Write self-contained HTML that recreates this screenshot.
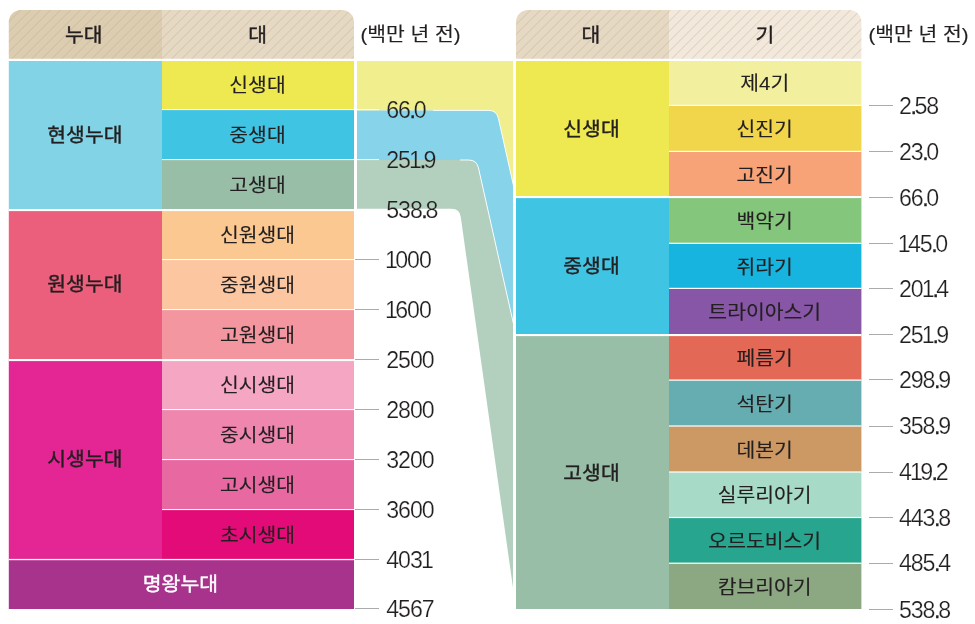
<!DOCTYPE html>
<html lang="ko">
<head>
<meta charset="utf-8">
<title>지질 시대 구분</title>
<style>
html,body{margin:0;padding:0;background:#fff}
svg{display:block}
text{font-family:"Liberation Sans","Noto Sans CJK KR",sans-serif;fill:#231f20}
.hd{font-size:19px;font-weight:400;text-anchor:middle;stroke:#231f20;stroke-width:0.38px}
.eon{font-size:19px;font-weight:400;text-anchor:middle;stroke:#231f20;stroke-width:0.38px}
.wh{fill:#fff;stroke:#fff}
.era{font-size:19px;font-weight:400;text-anchor:middle;stroke:#231f20;stroke-width:0.15px}
.num{font-size:23.2px;font-weight:400;letter-spacing:-1.1px;stroke:#fff;stroke-width:0.22px}
.onband{stroke:url(#bandgrad)}
.dot{stroke:#231f20;stroke-width:0.3px}
.unit{font-size:19px;font-weight:400;stroke:#231f20;stroke-width:0.15px}
</style>
</head>
<body>
<svg width="975" height="624" viewBox="0 0 975 624">
<defs>
<pattern id="hatch" width="7.07" height="7.07" patternUnits="userSpaceOnUse" patternTransform="rotate(-45)">
<rect x="0" y="0" width="7.07" height="0.75" fill="#b3a085" fill-opacity="0.4"/>
</pattern>
<linearGradient id="bandgrad" gradientUnits="userSpaceOnUse" x1="0" y1="0" x2="0" y2="624">
<stop offset="0" stop-color="#F1EE8E"/><stop offset="0.17692" stop-color="#F1EE8E"/>
<stop offset="0.17692" stop-color="#86D3EA"/><stop offset="0.25641" stop-color="#86D3EA"/>
<stop offset="0.25641" stop-color="#B3D0BF"/><stop offset="0.33462" stop-color="#B3D0BF"/>
<stop offset="0.33462" stop-color="#ffffff"/><stop offset="1" stop-color="#ffffff"/>
</linearGradient>
</defs>
<g id="bands">
<path d="M357 61H516V197L498.35 118.21Q496.60 110.40 488.60 110.40H357Z" fill="#F1EE8E"/>
<path d="M357 110.4H488.60Q496.60 110.40 498.35 118.21L516 197V335L478.45 167.81Q476.70 160.00 468.70 160.00H357Z" fill="#86D3EA"/>
<path d="M357 160H468.70Q476.70 160.00 478.45 167.81L516 335V609L460.72 216.72Q459.60 208.80 451.60 208.80H357Z" fill="#B3D0BF"/>
<path d="M357 109.6H379M433 110.4H488.60Q496.60 110.40 498.35 118.21L516 197" fill="none" stroke="#fff" stroke-width="0.9"/>
<path d="M357 159.6H379M460 160H468.70Q476.70 160.00 478.45 167.81L516 335" fill="none" stroke="#fff" stroke-width="0.9"/>
</g>
<rect x="513" y="59" width="3.2" height="552" fill="#fff"/>
<path d="M8.8 58.8V22A12 12 0 0 1 20.8 10H162V58.8Z" fill="#DCCDB1"/>
<path d="M162 58.8V10H342A12 12 0 0 1 354 22V58.8Z" fill="#E6D9C4"/>
<path d="M8.8 58.8V22A12 12 0 0 1 20.8 10H342A12 12 0 0 1 354 22V58.8Z" fill="url(#hatch)"/>
<text class="hd" transform="translate(83.80 42.00) scale(1.075 1)">누대</text>
<text class="hd" transform="translate(257.70 42.00) scale(1.075 1)">대</text>
<rect x="8.8" y="61" width="153.2" height="149" fill="#81D3E5"/>
<text class="eon" transform="translate(84.90 141.90) scale(1.075 1)">현생누대</text>
<rect x="8.8" y="210" width="153.2" height="150" fill="#EC5F7C"/>
<text class="eon" transform="translate(84.90 291.40) scale(1.075 1)">원생누대</text>
<rect x="8.8" y="360" width="153.2" height="200" fill="#E42594"/>
<text class="eon" transform="translate(84.90 466.40) scale(1.075 1)">시생누대</text>
<rect x="162" y="61" width="192" height="49" fill="#EEE950"/>
<text class="era" transform="translate(257.50 92.10) scale(1.075 1)">신생대</text>
<rect x="162" y="110" width="192" height="50" fill="#40C4E4"/>
<text class="era" transform="translate(257.50 141.60) scale(1.075 1)">중생대</text>
<rect x="162" y="160" width="192" height="50" fill="#98BEA8"/>
<text class="era" transform="translate(257.50 191.60) scale(1.075 1)">고생대</text>
<rect x="162" y="210" width="192" height="50" fill="#FBC891"/>
<text class="era" transform="translate(257.50 241.60) scale(1.075 1)">신원생대</text>
<rect x="162" y="260" width="192" height="50" fill="#FCC6A0"/>
<text class="era" transform="translate(257.50 291.60) scale(1.075 1)">중원생대</text>
<rect x="162" y="310" width="192" height="50" fill="#F3969F"/>
<text class="era" transform="translate(257.50 341.60) scale(1.075 1)">고원생대</text>
<rect x="162" y="360" width="192" height="50" fill="#F5A6C2"/>
<text class="era" transform="translate(257.50 391.60) scale(1.075 1)">신시생대</text>
<rect x="162" y="410" width="192" height="50" fill="#EE86AD"/>
<text class="era" transform="translate(257.50 441.60) scale(1.075 1)">중시생대</text>
<rect x="162" y="460" width="192" height="50" fill="#E868A2"/>
<text class="era" transform="translate(257.50 491.60) scale(1.075 1)">고시생대</text>
<rect x="162" y="510" width="192" height="50" fill="#E30B78"/>
<text class="era" transform="translate(257.50 541.60) scale(1.075 1)">초시생대</text>
<rect x="8.8" y="560" width="345.2" height="49" fill="#A7338D"/>
<text class="eon wh" transform="translate(180.40 590.90) scale(1.075 1)">명왕누대</text>
<rect x="162" y="109" width="192" height="1.1" fill="#fff"/>
<rect x="162" y="159" width="192" height="1.1" fill="#fff"/>
<rect x="162" y="259" width="192" height="1.1" fill="#fff"/>
<rect x="162" y="309" width="192" height="1.1" fill="#fff"/>
<rect x="162" y="409" width="192" height="1.1" fill="#fff"/>
<rect x="162" y="459" width="192" height="1.1" fill="#fff"/>
<rect x="162" y="509" width="192" height="1.1" fill="#fff"/>
<rect x="8.8" y="209" width="345.2" height="2.1" fill="#fff"/>
<rect x="8.8" y="359" width="345.2" height="2.1" fill="#fff"/>
<rect x="8.8" y="558.9" width="345.2" height="1.3" fill="#fff"/>
<text class="num onband" x="386.30" y="117.70" dx="0 0 -0.4 -1.2">66<tspan class="dot">.</tspan>0</text>
<text class="num onband" x="386.30" y="167.70" dx="0 0 -0.8 -1.2 -1.6">251<tspan class="dot">.</tspan>9</text>
<text class="num onband" x="386.30" y="217.70" dx="0 0 0 -0.4 -1.2">538<tspan class="dot">.</tspan>8</text>
<rect x="355" y="259.0" width="24" height="1" fill="#a9abad"/>
<text class="num" x="386.30" y="267.70" dx="-1.2 -1.6 0 0">1000</text>
<rect x="355" y="309.0" width="24" height="1" fill="#a9abad"/>
<text class="num" x="386.30" y="317.70" dx="-1.2 -1.6 0 0">1600</text>
<rect x="355" y="359.0" width="24" height="1" fill="#a9abad"/>
<text class="num" x="386.30" y="367.70" dx="0 0 0 0">2500</text>
<rect x="355" y="409.0" width="24" height="1" fill="#a9abad"/>
<text class="num" x="386.30" y="417.70" dx="0 0 0 0">2800</text>
<rect x="355" y="459.0" width="24" height="1" fill="#a9abad"/>
<text class="num" x="386.30" y="467.70" dx="0 0 0 0">3200</text>
<rect x="355" y="509.0" width="24" height="1" fill="#a9abad"/>
<text class="num" x="386.30" y="517.70" dx="0 0 0 0">3600</text>
<rect x="355" y="559.0" width="24" height="1" fill="#a9abad"/>
<text class="num" x="386.30" y="567.70" dx="0 0 0 -0.8">4031</text>
<rect x="355" y="608.0" width="24" height="1" fill="#a9abad"/>
<text class="num" x="386.30" y="616.70" dx="0 0 0 0">4567</text>
<text class="unit" transform="translate(360.50 41.30) scale(1.075 1)">(백만 년 전)</text>
<path d="M516 58.8V22A12 12 0 0 1 528 10H669V58.8Z" fill="#E6D9C4"/>
<path d="M669 58.8V10H849.4A12 12 0 0 1 861.4 22V58.8Z" fill="#F2E9DC"/>
<path d="M516 58.8V22A12 12 0 0 1 528 10H849.4A12 12 0 0 1 861.4 22V58.8Z" fill="url(#hatch)"/>
<text class="hd" transform="translate(590.90 42.00) scale(1.075 1)">대</text>
<text class="hd" transform="translate(764.90 42.00) scale(1.075 1)">기</text>
<rect x="516" y="61" width="153" height="136" fill="#EEE950"/>
<text class="eon" transform="translate(591.50 136.10) scale(1.075 1)">신생대</text>
<rect x="516" y="197" width="153" height="138" fill="#40C4E4"/>
<text class="eon" transform="translate(591.50 273.40) scale(1.075 1)">중생대</text>
<rect x="516" y="335" width="153" height="274" fill="#98BEA8"/>
<text class="eon" transform="translate(591.50 480.20) scale(1.075 1)">고생대</text>
<rect x="669" y="61.00" width="192.40" height="44.40" fill="#F2F09F"/>
<text class="era" transform="translate(764.70 90.10) scale(1.075 1)">제4기</text>
<rect x="669" y="105.40" width="192.40" height="46.00" fill="#F1D54A"/>
<text class="era" transform="translate(764.70 136.10) scale(1.075 1)">신진기</text>
<rect x="669" y="151.40" width="192.40" height="45.60" fill="#F7A277"/>
<text class="era" transform="translate(764.70 181.90) scale(1.075 1)">고진기</text>
<rect x="669" y="197.00" width="192.40" height="46.30" fill="#84C67B"/>
<text class="era" transform="translate(764.70 227.85) scale(1.075 1)">백악기</text>
<rect x="669" y="243.30" width="192.40" height="45.10" fill="#16B4DE"/>
<text class="era" transform="translate(764.70 273.55) scale(1.075 1)">쥐라기</text>
<rect x="669" y="288.40" width="192.40" height="46.60" fill="#8856A7"/>
<text class="era" transform="translate(764.70 319.40) scale(1.075 1)">트라이아스기</text>
<rect x="669" y="335.00" width="192.40" height="45.10" fill="#E36855"/>
<text class="era" transform="translate(764.70 365.25) scale(1.075 1)">페름기</text>
<rect x="669" y="380.10" width="192.40" height="45.90" fill="#66ADB1"/>
<text class="era" transform="translate(764.70 410.75) scale(1.075 1)">석탄기</text>
<rect x="669" y="426.00" width="192.40" height="46.00" fill="#CC9965"/>
<text class="era" transform="translate(764.70 456.70) scale(1.075 1)">데본기</text>
<rect x="669" y="472.00" width="192.40" height="45.50" fill="#A7DBC8"/>
<text class="era" transform="translate(764.70 502.45) scale(1.075 1)">실루리아기</text>
<rect x="669" y="517.50" width="192.40" height="45.70" fill="#27A58E"/>
<text class="era" transform="translate(764.70 548.05) scale(1.075 1)">오르도비스기</text>
<rect x="669" y="563.20" width="192.40" height="45.80" fill="#8BA882"/>
<text class="era" transform="translate(764.70 593.80) scale(1.075 1)">캄브리아기</text>
<rect x="669" y="104.80" width="192.40" height="1.2" fill="#fff"/>
<rect x="669" y="150.80" width="192.40" height="1.2" fill="#fff"/>
<rect x="516" y="196" width="345.40" height="2.1" fill="#fff"/>
<rect x="669" y="242.70" width="192.40" height="1.2" fill="#fff"/>
<rect x="669" y="287.80" width="192.40" height="1.2" fill="#fff"/>
<rect x="516" y="334" width="345.40" height="2.1" fill="#fff"/>
<rect x="669" y="379.50" width="192.40" height="1.2" fill="#fff"/>
<rect x="669" y="425.40" width="192.40" height="1.2" fill="#fff"/>
<rect x="669" y="471.40" width="192.40" height="1.2" fill="#fff"/>
<rect x="669" y="516.90" width="192.40" height="1.2" fill="#fff"/>
<rect x="669" y="562.60" width="192.40" height="1.2" fill="#fff"/>
<rect x="869" y="105" width="24" height="1" fill="#a9abad"/>
<text class="num" x="899.00" y="113.50" dx="0 -0.4 -1.2 0">2<tspan class="dot">.</tspan>58</text>
<rect x="869" y="151" width="24" height="1" fill="#a9abad"/>
<text class="num" x="899.00" y="159.60" dx="0 0 -0.4 -1.2">23<tspan class="dot">.</tspan>0</text>
<rect x="869" y="197" width="24" height="1" fill="#a9abad"/>
<text class="num" x="899.00" y="205.60" dx="0 0 -0.4 -1.2">66<tspan class="dot">.</tspan>0</text>
<rect x="869" y="243" width="24" height="1" fill="#a9abad"/>
<text class="num" x="899.00" y="251.60" dx="-1.2 -1.6 0 -0.4 -1.2">145<tspan class="dot">.</tspan>0</text>
<rect x="869" y="288" width="24" height="1" fill="#a9abad"/>
<text class="num" x="899.00" y="296.50" dx="0 0 -0.8 -1.2 -1.6">201<tspan class="dot">.</tspan>4</text>
<rect x="869" y="334" width="24" height="1" fill="#a9abad"/>
<text class="num" x="899.00" y="342.70" dx="0 0 -0.8 -1.2 -1.6">251<tspan class="dot">.</tspan>9</text>
<rect x="869" y="379" width="24" height="1" fill="#a9abad"/>
<text class="num" x="899.00" y="388.10" dx="0 0 0 -0.4 -1.2">298<tspan class="dot">.</tspan>9</text>
<rect x="869" y="426" width="24" height="1" fill="#a9abad"/>
<text class="num" x="899.00" y="434.20" dx="0 0 0 -0.4 -1.2">358<tspan class="dot">.</tspan>9</text>
<rect x="869" y="472" width="24" height="1" fill="#a9abad"/>
<text class="num" x="899.00" y="480.30" dx="0 -0.8 -1.6 -0.4 -1.2">419<tspan class="dot">.</tspan>2</text>
<rect x="869" y="517" width="24" height="1" fill="#a9abad"/>
<text class="num" x="899.00" y="525.60" dx="0 0 0 -0.4 -1.2">443<tspan class="dot">.</tspan>8</text>
<rect x="869" y="563" width="24" height="1" fill="#a9abad"/>
<text class="num" x="899.00" y="571.30" dx="0 0 0 -0.4 -1.2">485<tspan class="dot">.</tspan>4</text>
<rect x="869" y="609" width="24" height="1" fill="#a9abad"/>
<text class="num" x="899.00" y="617.50" dx="0 0 0 -0.4 -1.2">538<tspan class="dot">.</tspan>8</text>
<text class="unit" transform="translate(868.50 41.30) scale(1.075 1)">(백만 년 전)</text>
</svg>
</body>
</html>
